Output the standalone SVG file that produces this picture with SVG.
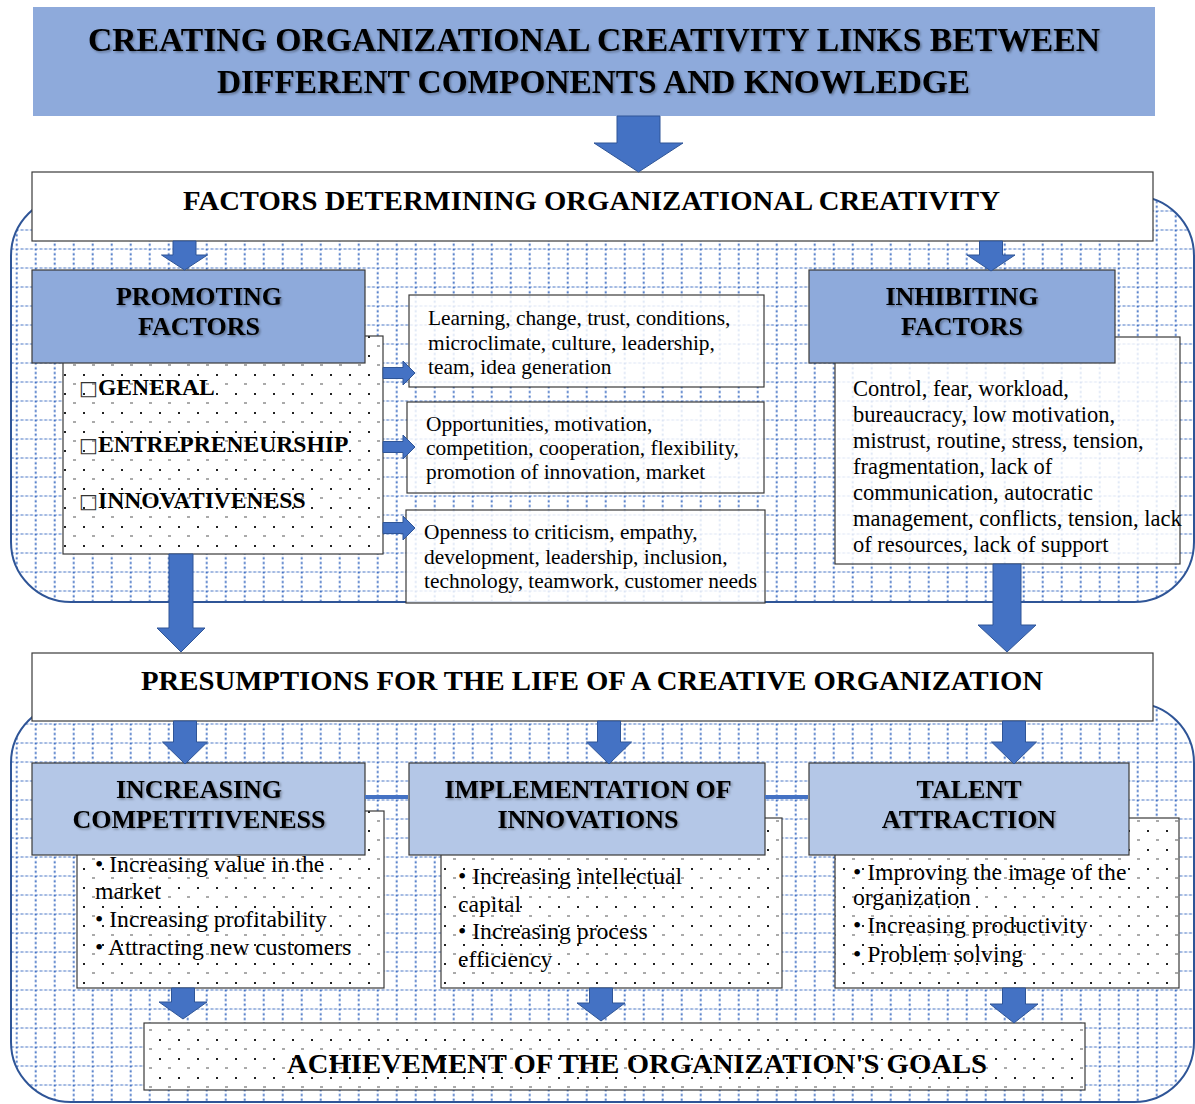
<svg xmlns="http://www.w3.org/2000/svg" width="1195" height="1104" viewBox="0 0 1195 1104">
<defs>
<pattern id="grid" patternUnits="userSpaceOnUse" x="15.7" y="248.5" width="19" height="19">
<rect width="19" height="19" fill="#fff"/>
<path d="M0 0.5H19" stroke="#4472C4" stroke-width="1" stroke-dasharray="3 1.75"/>
<path d="M1 0V19" stroke="#4472C4" stroke-width="2" stroke-dasharray="2 2.75"/>
</pattern>
<pattern id="dots" patternUnits="userSpaceOnUse" x="64" y="374" width="19" height="19">
<rect width="19" height="19" fill="#fff"/>
<rect x="0" y="0" width="2" height="2" fill="#222"/>
<rect x="9" y="9.5" width="3" height="1" fill="#555"/>
</pattern>
<filter id="sh" x="-5%" y="-20%" width="110%" height="150%">
<feDropShadow dx="1.5" dy="1.5" stdDeviation="1.2" flood-color="#000" flood-opacity="0.35"/>
</filter>
<style>
.region{fill:url(#grid);stroke:#2F5597;stroke-width:2}
.hdr{fill:#8EAADB;stroke:#3A3A3A;stroke-width:1.2}
.hdr2{fill:#B4C7E7;stroke:#3A3A3A;stroke-width:1.2}
.wbox{fill:#fff;stroke:#3A3A3A;stroke-width:1.2}
.tbox{fill:#fff;fill-opacity:0.82;stroke:#3A3A3A;stroke-width:1.2}
.dbox{fill:url(#dots);stroke:#3A3A3A;stroke-width:1.2}
.arr{fill:#4472C4;stroke:#2F5597;stroke-width:1}
.ln{stroke:#4472C4;stroke-width:4;fill:none}
text{font-family:"Liberation Serif","Times New Roman",serif;fill:#000}
.h{font-weight:bold}
.t{font-size:21.4px}
.tb{font-size:22.5px}
.bl{font-size:23.7px}
.box{font-family:"DejaVu Sans",sans-serif;font-weight:normal;font-size:20px;fill:#333}
</style>
</defs>

<rect class="region" x="11" y="196" width="1183" height="406" rx="60"/>
<rect class="region" x="11" y="703" width="1183" height="399" rx="60"/>

<g id="title">
<rect x="33" y="7" width="1122" height="109" fill="#8EAADB"/>
<g class="h" filter="url(#sh)" font-size="33" text-anchor="middle">
<text x="594" y="51" textLength="1012" lengthAdjust="spacingAndGlyphs">CREATING ORGANIZATIONAL CREATIVITY LINKS BETWEEN</text>
<text x="593.5" y="93" textLength="753" lengthAdjust="spacingAndGlyphs">DIFFERENT COMPONENTS AND KNOWLEDGE</text>
</g>
</g>

<g id="factors">
<rect class="wbox" x="32" y="172" width="1121" height="69"/>
<text class="h" x="591.5" y="210" font-size="28" text-anchor="middle" textLength="817" lengthAdjust="spacingAndGlyphs">FACTORS DETERMINING ORGANIZATIONAL CREATIVITY</text>
</g>

<g id="promoting">
<rect class="dbox" x="63" y="336" width="320" height="218"/>
<rect class="hdr" x="32" y="270" width="333" height="93"/>
<g class="h" font-size="26" text-anchor="middle" filter="url(#sh)">
<text x="199" y="305">PROMOTING</text>
<text x="199" y="335">FACTORS</text>
</g>
<g class="h" font-size="23.6">
<text x="79" y="395"><tspan class="box">□</tspan><tspan x="98">GENERAL</tspan></text>
<text x="79" y="452"><tspan class="box">□</tspan><tspan x="98">ENTREPRENEURSHIP</tspan></text>
<text x="79" y="508"><tspan class="box">□</tspan><tspan x="98">INNOVATIVENESS</tspan></text>
</g>
</g>

<g id="general-box">
<rect class="tbox" x="409" y="295" width="355" height="92"/>
<g class="t">
<text x="428" y="325">Learning, change, trust, conditions,</text>
<text x="428" y="350">microclimate, culture, leadership,</text>
<text x="428" y="374">team, idea generation</text>
</g>
</g>

<g id="entrepreneurship-box">
<rect class="tbox" x="407" y="402" width="357" height="91"/>
<g class="t">
<text x="426" y="431">Opportunities, motivation,</text>
<text x="426" y="455">competition, cooperation, flexibility,</text>
<text x="426" y="479">promotion of innovation, market</text>
</g>
</g>

<g id="innovativeness-box">
<rect class="tbox" x="406" y="510" width="359" height="93"/>
<g class="t">
<text x="424" y="539">Openness to criticism, empathy,</text>
<text x="424" y="564">development, leadership, inclusion,</text>
<text x="424" y="588">technology, teamwork, customer needs</text>
</g>
</g>

<g id="inhibiting">
<rect class="tbox" x="835" y="337" width="345" height="227"/>
<rect class="hdr" x="809" y="270" width="306" height="93"/>
<g class="h" font-size="26" text-anchor="middle" filter="url(#sh)">
<text x="962" y="305">INHIBITING</text>
<text x="962" y="335">FACTORS</text>
</g>
<g class="tb">
<text x="853" y="396">Control, fear, workload,</text>
<text x="853" y="422">bureaucracy, low motivation,</text>
<text x="853" y="448">mistrust, routine, stress, tension,</text>
<text x="853" y="474">fragmentation, lack of</text>
<text x="853" y="500">communication, autocratic</text>
<text x="853" y="526">management, conflicts, tension, lack</text>
<text x="853" y="552">of resources, lack of support</text>
</g>
</g>

<g id="presumptions">
<rect class="wbox" x="32" y="653" width="1121" height="68"/>
<text class="h" x="592" y="690" font-size="28" text-anchor="middle" textLength="902" lengthAdjust="spacingAndGlyphs">PRESUMPTIONS FOR THE LIFE OF A CREATIVE ORGANIZATION</text>
</g>

<g id="competitiveness">
<rect class="dbox" x="77" y="811" width="307" height="177"/>
<rect class="hdr2" x="32" y="763" width="333" height="92"/>
<g class="h" font-size="26" text-anchor="middle" filter="url(#sh)">
<text x="199" y="798">INCREASING</text>
<text x="199" y="828">COMPETITIVENESS</text>
</g>
<g class="bl">
<text x="95" y="872">• Increasing value in the</text>
<text x="95" y="899">market</text>
<text x="95" y="927">• Increasing profitability</text>
<text x="95" y="955">• Attracting new customers</text>
</g>
</g>

<g id="innovations">
<rect class="dbox" x="441" y="818" width="341" height="170"/>
<rect class="hdr2" x="409" y="763" width="356" height="92"/>
<g class="h" font-size="26" text-anchor="middle" filter="url(#sh)">
<text x="588" y="798">IMPLEMENTATION OF</text>
<text x="588" y="828">INNOVATIONS</text>
</g>
<g class="bl">
<text x="458" y="884">• Increasing intellectual</text>
<text x="458" y="912">capital</text>
<text x="458" y="939">• Increasing process</text>
<text x="458" y="967">efficiency</text>
</g>
</g>

<g id="talent">
<rect class="dbox" x="835" y="818" width="344" height="170"/>
<rect class="hdr2" x="809" y="763" width="320" height="92"/>
<g class="h" font-size="26" text-anchor="middle" filter="url(#sh)">
<text x="969" y="798">TALENT</text>
<text x="969" y="828">ATTRACTION</text>
</g>
<g class="bl">
<text x="853" y="880">• Improving the image of the</text>
<text x="853" y="905">organization</text>
<text x="853" y="933">• Increasing productivity</text>
<text x="853" y="962">• Problem solving</text>
</g>
</g>

<g id="goals">
<rect class="dbox" x="144" y="1023" width="941" height="67"/>
<text class="h" x="637" y="1073" font-size="28" text-anchor="middle" textLength="700" lengthAdjust="spacingAndGlyphs">ACHIEVEMENT OF THE ORGANIZATION'S GOALS</text>
</g>

<g id="connectors">
<polygon class="arr" points="617,116 660,116 660,143 683,143 638.5,172 594,143 617,143"/>
<polygon class="arr" points="173,241 196,241 196,255 207.5,255 184.5,270 161.5,255 173,255"/>
<polygon class="arr" points="979.5,241 1002.5,241 1002.5,255 1015,255 991,271 967,255 979.5,255"/>
<polygon class="arr" points="169,554 193,554 193,628 205,628 181,652 157,628 169,628"/>
<polygon class="arr" points="993,564 1021,564 1021,625 1036,625 1007,652 978,625 993,625"/>
<polygon class="arr" points="173.5,721 196.5,721 196.5,742 207.5,742 185,764 162.5,742 173.5,742"/>
<polygon class="arr" points="597.5,721 620.5,721 620.5,742 631.5,742 609,764 586.5,742 597.5,742"/>
<polygon class="arr" points="1002.5,721 1025.5,721 1025.5,742 1036.5,742 1014,764 991.5,742 1002.5,742"/>
<polygon class="arr" points="171.5,988 194.5,988 194.5,1002 207,1002 183,1019 159,1002 171.5,1002"/>
<polygon class="arr" points="589.5,988 612.5,988 612.5,1003 625,1003 601,1021 577,1003 589.5,1003"/>
<polygon class="arr" points="1002.5,988 1025.5,988 1025.5,1004 1038,1004 1014,1023 990,1004 1002.5,1004"/>
<polygon class="arr" points="383,367.5 403,367.5 403,361 415,373 403,385 403,378.5 383,378.5"/>
<polygon class="arr" points="383,441.5 403,441.5 403,435 415,447 403,459 403,452.5 383,452.5"/>
<polygon class="arr" points="383,522.5 403,522.5 403,516 415,528 403,540 403,533.5 383,533.5"/>
<line class="ln" x1="365" y1="797" x2="408" y2="797"/>
<line class="ln" x1="765" y1="797" x2="808" y2="797"/>
</g>
</svg>
